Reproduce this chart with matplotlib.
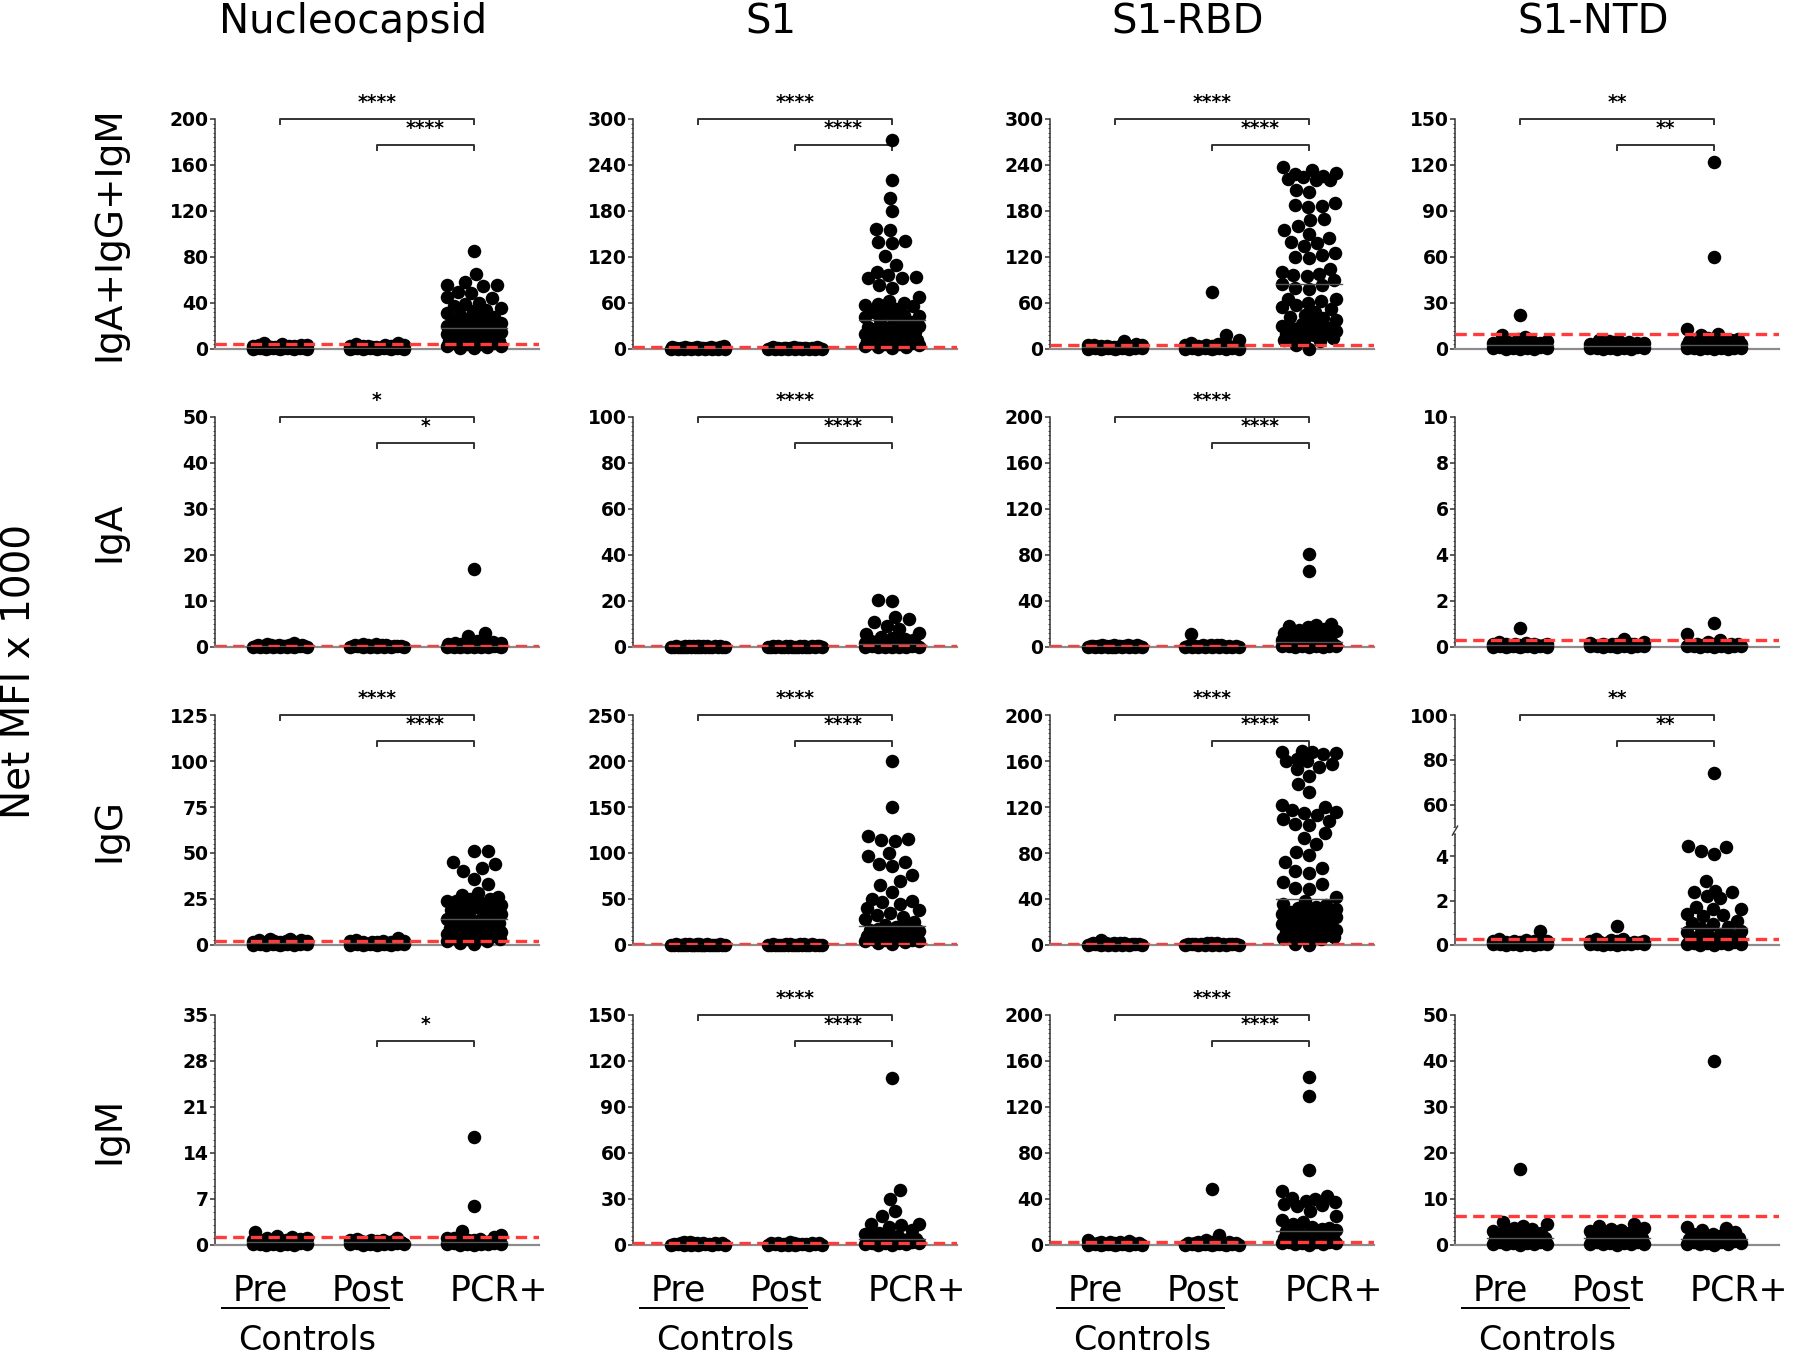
import numpy as np
import matplotlib.pyplot as plt
from matplotlib.ticker import MultipleLocator, AutoMinorLocator, FixedLocator

plt.rcParams['font.family'] = ['DejaVu Sans']

antigens = ["Nucleocapsid", "S1", "S1-RBD", "S1-NTD"]
isotypes = ["IgA+IgG+IgM", "IgA", "IgG", "IgM"]
groups = ["Pre", "Post", "PCR+"]

# ---- IgA+IgG+IgM ----
nuc_all_pre = [0.1, 0.2, 0.3, 0.4, 0.5, 0.6, 0.7, 0.8, 0.9, 1.0, 1.1, 1.2, 1.4, 1.5, 1.7, 1.8, 2.0, 2.2, 2.4,
               2.6, 2.9, 3.1, 3.4, 3.8, 4.2, 0.2, 0.5, 0.9, 1.3, 5.0]
nuc_all_post = [0.1, 0.2, 0.3, 0.4, 0.5, 0.6, 0.7, 0.8, 1.0, 1.1, 1.2, 1.3, 1.5, 1.6, 1.8, 2.0, 2.2, 2.5, 2.7,
                3.0, 3.3, 3.6, 0.3, 0.6, 0.9, 1.4, 4.2, 5.5]
nuc_all_pcr = [85, 65, 58, 56, 55, 56, 50, 49, 45, 44, 40, 39, 37, 36, 34, 33, 31, 30, 28, 27, 26, 25, 24, 23,
               22, 21, 20, 19, 18, 17, 16, 15, 15, 14, 13, 12, 11, 10, 10, 9, 8, 8, 7, 7, 6, 6, 5, 5, 5, 4, 4,
               3, 3, 2, 1, 0.5]
s1_all_pre = [0.1, 0.2, 0.3, 0.4, 0.5, 0.6, 0.7, 0.8, 0.9, 1.0, 1.1, 1.2, 1.3, 1.5, 1.6, 1.8, 2.0, 2.2, 2.5,
              2.8, 3.1, 0.2, 0.4, 0.6, 0.8, 1.0, 1.4, 3.5]
s1_all_post = [0.1, 0.2, 0.3, 0.4, 0.5, 0.6, 0.7, 0.8, 0.9, 1.0, 1.2, 1.4, 1.6, 1.8, 2.0, 2.3, 2.6, 0.3, 0.5,
               0.9, 1.1, 1.5, 0.2, 0.7]
s1_all_pcr = [272, 221, 197, 180, 157, 155, 141, 139, 138, 121, 110, 100, 96, 94, 93, 92, 83, 80, 68, 62, 60,
              59, 58, 56, 52, 50, 48, 45, 43, 42, 40, 38, 35, 32, 30, 29, 28, 26, 25, 24, 22, 20, 18, 17, 16, 15,
              14, 13, 12, 12, 11, 10, 10, 9, 8, 8, 7, 6, 5, 4, 3, 2, 1]
rbd_all_pre = [0.2, 0.4, 0.6, 0.8, 1.0, 1.2, 1.4, 1.6, 1.8, 2.0, 2.2, 2.5, 2.8, 3.0, 3.3, 3.6, 4.0, 4.4, 4.8,
               5.2, 5.8, 6.4, 0.3, 0.7, 1.1, 1.5, 2.4, 10]
rbd_all_post = [75, 18, 12, 8, 6.5, 5.8, 5.0, 4.4, 3.8, 3.2, 2.8, 2.4, 2.0, 1.6, 1.3, 1.0, 0.8, 0.6, 0.4, 0.2,
                0.1, 0.3, 0.9, 1.8, 2.6, 3.5]
rbd_all_pcr = [238, 233, 230, 228, 226, 225, 222, 221, 220, 208, 205, 190, 188, 187, 185, 170, 168, 160, 155,
               150, 145, 140, 138, 135, 125, 122, 120, 119, 105, 100, 98, 97, 95, 90, 85, 83, 80, 78, 65, 65, 62,
               60, 58, 55, 52, 48, 45, 42, 40, 38, 35, 32, 30, 28, 27, 26, 25, 24, 22, 20, 19, 18, 17, 15, 14, 12,
               10, 5, 0.5]
ntd_all_pre = [22, 9, 8, 6.5, 5.5, 5, 4.5, 4, 3.5, 3.2, 3, 2.7, 2.5, 2.2, 2, 1.8, 1.5, 1.3, 1.1, 1, 0.8, 0.6,
               0.5, 0.4, 0.3, 0.2, 0.1, 1.2, 2.4, 3.8]
ntd_all_post = [6, 5.5, 5, 4.6, 4.2, 3.9, 3.6, 3.3, 3, 2.8, 2.5, 2.3, 2, 1.8, 1.6, 1.4, 1.2, 1, 0.8, 0.6, 0.5,
                0.4, 0.3, 0.2, 0.1, 2.2, 3.1, 4.8, 1.5, 0.9]
ntd_all_pcr = [122, 60, 13, 10, 9, 7, 6.5, 6, 5.5, 5, 4.8, 4.5, 4.2, 4, 3.8, 3.5, 3.2, 3, 2.8, 2.6, 2.4, 2.2, 2,
               1.8, 1.6, 1.5, 1.3, 1.2, 1, 0.9, 0.8, 0.7, 0.6, 0.5, 0.4, 0.3, 0.2, 0.1, 2.1, 3.3]

# ---- IgA ----
nuc_iga_pre = [0.8, 0.6, 0.5, 0.45, 0.4, 0.35, 0.3, 0.28, 0.25, 0.22, 0.2, 0.18, 0.15, 0.12, 0.1, 0.08, 0.05,
               0.03, 0.02, 0.01, 0.3, 0.2, 0.1, 0.05, 0.4, 0.15]
nuc_iga_post = [0.7, 0.55, 0.45, 0.4, 0.35, 0.3, 0.26, 0.22, 0.2, 0.17, 0.14, 0.12, 0.1, 0.08, 0.05, 0.03, 0.01,
                0.3, 0.2, 0.1, 0.05, 0.4, 0.15, 0.25]
nuc_iga_pcr = [17, 3, 2.4, 1.2, 1.0, 0.9, 0.8, 0.7, 0.6, 0.55, 0.5, 0.45, 0.4, 0.35, 0.3, 0.28, 0.25, 0.22, 0.2,
               0.18, 0.15, 0.12, 0.1, 0.08, 0.05, 0.03, 0.02, 0.01, 0.3, 0.2, 0.1, 0.05, 0.4, 0.15]
s1_iga_pre = [0.6, 0.5, 0.45, 0.4, 0.35, 0.3, 0.25, 0.2, 0.18, 0.15, 0.12, 0.1, 0.08, 0.06, 0.05, 0.04, 0.03,
              0.02, 0.01, 0.3, 0.2, 0.1, 0.05, 0.4, 0.15, 0.25]
s1_iga_post = [0.55, 0.5, 0.42, 0.38, 0.33, 0.28, 0.24, 0.2, 0.17, 0.14, 0.11, 0.09, 0.07, 0.05, 0.03, 0.02,
               0.01, 0.3, 0.2, 0.1, 0.05, 0.4, 0.15]
s1_iga_pcr = [20.5, 20, 13, 12, 11, 9, 8, 6, 5.5, 4.5, 4, 3.5, 3, 2.5, 2.2, 2, 1.8, 1.5, 1.2, 1, 0.9, 0.8, 0.6,
              0.5, 0.4, 0.3, 0.2, 0.15, 0.1, 0.05, 0.02, 0.3, 0.7, 0.4, 0.2, 0.1]
rbd_iga_pre = [2, 1.8, 1.5, 1.3, 1.1, 1, 0.9, 0.8, 0.7, 0.6, 0.5, 0.4, 0.3, 0.25, 0.2, 0.15, 0.1, 0.05, 0.02,
               0.5, 1.2, 0.7, 0.3, 0.1, 1.6, 0.9]
rbd_iga_post = [11, 2, 1.7, 1.4, 1.2, 1, 0.9, 0.8, 0.6, 0.5, 0.4, 0.3, 0.2, 0.1, 0.05, 0.02, 0.6, 1.1, 0.3, 0.15,
                1.5, 0.7, 0.4]
rbd_iga_pcr = [81, 66, 20, 19, 18, 17, 16, 15, 14, 12, 12, 11, 10, 9, 8, 7, 6, 5, 5, 4, 4, 3.5, 3, 3, 2.5, 2, 2,
               1.5, 1.2, 1, 0.8, 0.6, 0.4, 0.2, 0.1, 1.8, 0.9, 0.5]
ntd_iga_pre = [0.82, 0.2, 0.18, 0.15, 0.13, 0.12, 0.1, 0.09, 0.08, 0.07, 0.06, 0.05, 0.04, 0.03, 0.02, 0.01,
               0.005, 0.11, 0.07, 0.03, 0.14, 0.06, 0.02, 0.09, 0.04, 0.01]
ntd_iga_post = [0.35, 0.2, 0.17, 0.15, 0.13, 0.11, 0.1, 0.09, 0.08, 0.07, 0.06, 0.05, 0.04, 0.03, 0.02, 0.01,
                0.12, 0.07, 0.03, 0.14, 0.06, 0.02, 0.09, 0.04]
ntd_iga_pcr = [1.05, 0.55, 0.3, 0.2, 0.15, 0.12, 0.1, 0.09, 0.08, 0.07, 0.06, 0.05, 0.04, 0.03, 0.02, 0.01,
               0.11, 0.07, 0.03, 0.14, 0.06, 0.02]

# ---- IgG ----
nuc_igg_pre = [3.2, 3, 2.7, 2.5, 2.3, 2.1, 1.9, 1.7, 1.5, 1.3, 1.1, 1, 0.9, 0.8, 0.7, 0.6, 0.5, 0.4, 0.3, 0.2,
               0.1, 0.05, 1.4, 0.9, 0.4, 2.2, 0.2, 1.6]
nuc_igg_post = [3.6, 2.8, 2.4, 2.1, 1.8, 1.6, 1.4, 1.2, 1, 0.9, 0.8, 0.7, 0.6, 0.5, 0.4, 0.3, 0.2, 0.1, 0.05,
                1.1, 0.6, 0.3, 1.5, 0.15, 0.8, 2.0]
nuc_igg_pcr = [51, 51, 45, 44, 42, 40, 36, 33, 28, 27, 26, 25, 25, 24, 24, 23, 22, 21, 20, 20, 19, 18, 17, 16,
               15, 14, 14, 13, 12, 12, 11, 10, 10, 9, 9, 8, 8, 7, 7, 6, 6, 5, 5, 5, 4, 4, 3, 3, 2, 2, 1, 0.5]
s1_igg_pre = [1.0, 0.9, 0.8, 0.7, 0.6, 0.5, 0.45, 0.4, 0.35, 0.3, 0.25, 0.2, 0.15, 0.1, 0.05, 0.02, 0.5, 0.3,
              0.1, 0.7, 0.2, 0.4, 0.6, 0.08, 0.12, 0.35]
s1_igg_post = [0.9, 0.8, 0.7, 0.6, 0.55, 0.5, 0.45, 0.4, 0.3, 0.25, 0.2, 0.15, 0.1, 0.05, 0.02, 0.5, 0.3, 0.1,
               0.65, 0.2, 0.35, 0.08]
s1_igg_pcr = [200, 150, 119, 115, 114, 113, 100, 97, 90, 88, 86, 76, 70, 65, 58, 50, 48, 47, 45, 40, 38, 35, 33,
              30, 28, 25, 22, 20, 18, 17, 16, 15, 15, 14, 13, 12, 12, 11, 10, 10, 9, 8, 8, 7, 7, 6, 6, 5, 5, 4,
              4, 3, 2, 1]
rbd_igg_pre = [4, 2, 1.8, 1.6, 1.4, 1.2, 1, 0.9, 0.8, 0.7, 0.6, 0.5, 0.4, 0.3, 0.2, 0.1, 0.05, 1.1, 0.6, 0.3,
               1.5, 0.15, 0.8, 0.45]
rbd_igg_post = [2, 1.7, 1.4, 1.2, 1, 0.9, 0.8, 0.6, 0.5, 0.4, 0.3, 0.2, 0.1, 0.05, 1.1, 0.7, 0.35, 0.15, 1.3,
                0.55]
rbd_igg_pcr = [169, 168, 168, 167, 166, 162, 160, 160, 157, 155, 153, 147, 140, 133, 122, 120, 117, 116, 115,
               113, 110, 108, 105, 104, 97, 93, 88, 81, 78, 72, 67, 64, 63, 55, 53, 50, 49, 42, 38, 36, 35, 33,
               32, 31, 30, 29, 28, 27, 27, 26, 25, 24, 24, 23, 22, 21, 20, 20, 19, 18, 16, 15, 14, 13, 12, 11,
               10, 9, 9, 8, 8, 7, 6, 5, 1, 0]
ntd_igg_pre = [0.65, 0.25, 0.22, 0.2, 0.18, 0.16, 0.14, 0.12, 0.1, 0.09, 0.08, 0.07, 0.06, 0.05, 0.04, 0.03,
               0.02, 0.01, 0.15, 0.11, 0.06, 0.03, 0.19, 0.08, 0.13, 0.02]
ntd_igg_post = [0.85, 0.28, 0.25, 0.22, 0.2, 0.17, 0.15, 0.12, 0.1, 0.09, 0.08, 0.07, 0.06, 0.05, 0.04, 0.03,
                0.02, 0.01, 0.15, 0.11, 0.06, 0.03, 0.19, 0.08]
ntd_igg_pcr = [74, 4.45, 4.4, 4.25, 4.1, 2.9, 2.45, 2.4, 2.4, 2.2, 2.1, 1.7, 1.6, 1.6, 1.4, 1.35, 1.3, 1.1, 1.0,
               0.95, 0.8, 0.75, 0.65, 0.6, 0.5, 0.45, 0.4, 0.35, 0.3, 0.25, 0.2, 0.15, 0.12, 0.1, 0.08, 0.05,
               0.03, 0.02, 0.01, 0.3, 0.2, 0.1, 0.05]

# ---- IgM ----
nuc_igm_pre = [2.0, 1.4, 1.1, 1.0, 0.9, 0.8, 0.7, 0.65, 0.6, 0.5, 0.45, 0.4, 0.35, 0.3, 0.25, 0.2, 0.15, 0.1,
               0.05, 0.02, 0.55, 0.3, 0.12, 0.8, 0.4, 0.2, 0.05, 1.2]
nuc_igm_post = [1.0, 0.9, 0.8, 0.7, 0.6, 0.55, 0.5, 0.45, 0.4, 0.35, 0.3, 0.25, 0.2, 0.15, 0.1, 0.05, 0.02, 0.6,
                0.3, 0.12, 0.8, 0.4, 0.2]
nuc_igm_pcr = [16.5, 6, 2.2, 1.5, 1.2, 1.1, 1.0, 0.9, 0.8, 0.7, 0.6, 0.5, 0.45, 0.4, 0.35, 0.3, 0.25, 0.2, 0.15,
               0.1, 0.05, 0.02, 0.6, 0.3, 0.12, 0.4, 0.2]
s1_igm_pre = [2.2, 1.8, 1.5, 1.3, 1.1, 1, 0.9, 0.8, 0.7, 0.6, 0.5, 0.4, 0.3, 0.2, 0.1, 0.05, 1.2, 0.6, 0.3, 1.6,
              0.2, 0.8]
s1_igm_post = [1.8, 1.5, 1.2, 1, 0.9, 0.8, 0.7, 0.6, 0.5, 0.4, 0.3, 0.2, 0.1, 0.05, 1.1, 0.6, 0.3, 1.4, 0.15]
s1_igm_pcr = [109, 36, 30, 22, 19, 14, 14, 13, 12, 10, 8, 7, 6, 6, 5, 5, 4, 4, 3.5, 3, 3, 2.5, 2, 2, 1.5, 1, 1,
              0.5, 0.3, 0.1, 2.2, 1.2, 0.6]
rbd_igm_pre = [4, 3.2, 2.8, 2.4, 2, 1.8, 1.6, 1.4, 1.2, 1, 0.8, 0.6, 0.5, 0.4, 0.3, 0.2, 0.1, 1.1, 0.7, 0.3,
               1.5, 2.2, 0.9]
rbd_igm_post = [49, 9, 4, 3, 2.5, 2.2, 1.9, 1.6, 1.3, 1.1, 0.9, 0.7, 0.5, 0.4, 0.3, 0.2, 0.1, 1.2, 0.6, 0.25,
                1.8, 0.8]
rbd_igm_pcr = [146, 130, 65, 47, 43, 41, 40, 38, 37, 36, 35, 34, 30, 25, 22, 20, 18, 16, 15, 14, 13, 12, 11, 10,
               10, 9, 8, 7, 6, 5, 5, 4, 3, 3, 2, 2, 1.5, 1, 0.5, 0.2, 2.5, 6.5, 4.5]
ntd_igm_pre = [16.5, 5, 4.5, 4.2, 3.8, 3.4, 3, 2.7, 2.4, 2.1, 1.8, 1.6, 1.4, 1.2, 1, 0.8, 0.6, 0.5, 0.4, 0.3,
               0.2, 0.1, 1.7, 1.1, 0.7, 0.3, 2.5, 1.5, 0.9, 0.15]
ntd_igm_post = [4.6, 4.2, 3.8, 3.5, 3.2, 3, 2.7, 2.4, 2.2, 2, 1.8, 1.6, 1.4, 1.2, 1, 0.8, 0.6, 0.5, 0.4, 0.3,
                0.2, 0.1, 1.7, 1.1, 0.7, 0.3, 2.5, 1.5, 0.9, 0.15]
ntd_igm_pcr = [40, 4, 3.6, 3.2, 2.8, 2.5, 2.3, 2, 1.8, 1.6, 1.4, 1.2, 1, 0.8, 0.6, 0.5, 0.4, 0.3, 0.2, 0.1, 1.7,
               1.1, 0.7, 0.3, 1.5, 0.9]

y_max = [[200, 300, 300, 150], [50, 100, 200, 10], [125, 250, 200, 100], [35, 150, 200, 50]]
y_step = [[40, 60, 60, 30], [10, 20, 40, 2], [25, 50, 40, 20], [7, 30, 40, 10]]
cutoffs = [[4.5, 3.2, 5.5, 9.5], [0.3, 0.5, 1.0, 0.29], [2.2, 0.6, 1.0, 0.29], [1.2, 1.0, 2.4, 6.3]]
stars = [[("****", "****"), ("****", "****"), ("****", "****"), ("**", "**")],
         [("*", "*"), ("****", "****"), ("****", "****"), None],
         [("****", "****"), ("****", "****"), ("****", "****"), ("**", "**")],
         [(None, "*"), ("****", "****"), ("****", "****"), None]]

data = [
    [(nuc_all_pre, nuc_all_post, nuc_all_pcr), (s1_all_pre, s1_all_post, s1_all_pcr),
     (rbd_all_pre, rbd_all_post, rbd_all_pcr), (ntd_all_pre, ntd_all_post, ntd_all_pcr)],
    [(nuc_iga_pre, nuc_iga_post, nuc_iga_pcr), (s1_iga_pre, s1_iga_post, s1_iga_pcr),
     (rbd_iga_pre, rbd_iga_post, rbd_iga_pcr), (ntd_iga_pre, ntd_iga_post, ntd_iga_pcr)],
    [(nuc_igg_pre, nuc_igg_post, nuc_igg_pcr), (s1_igg_pre, s1_igg_post, s1_igg_pcr),
     (rbd_igg_pre, rbd_igg_post, rbd_igg_pcr), (ntd_igg_pre, ntd_igg_post, ntd_igg_pcr)],
    [(nuc_igm_pre, nuc_igm_post, nuc_igm_pcr), (s1_igm_pre, s1_igm_post, s1_igm_pcr),
     (rbd_igm_pre, rbd_igm_post, rbd_igm_pcr), (ntd_igm_pre, ntd_igm_post, ntd_igm_pcr)],
]

# layout (pixels)
W, H = 1800, 1357
lefts = [215, 633, 1050, 1455]
tops = [119, 417, 715, 1015]
aw, ah = 324, 230
DOT = 13.5  # dot diameter in px
HALF = 27   # max swarm half width in px

# broken axis for S1-NTD IgG: 0-5 lower part, 50-100 upper part
brk_y = [-5, 0, 5, 50, 100, 300]
brk_f = [-0.4826, 0, 0.4826, 0.513, 1.0, 3.0]


def fwd(y):
    return np.interp(y, brk_y, brk_f)


def inv(v):
    return np.interp(v, brk_f, brk_y)


def swarm(ax, xc, vals):
    vals = np.asarray(vals, float)
    pts = ax.transData.transform(np.column_stack([np.full(len(vals), xc), vals]))
    ypx = pts[:, 1]
    x0 = pts[0, 0]
    cand = np.arange(-HALF, HALF + 0.1, 1.0)
    cand = cand[np.argsort(np.abs(cand), kind="stable")]
    placed = np.empty((0, 2))
    offs = np.zeros(len(vals))
    for i in np.argsort(vals, kind="stable"):
        best, bestd = 0.0, -1.0
        for c in cand:
            if len(placed):
                dist = np.hypot(placed[:, 0] - c, placed[:, 1] - ypx[i]).min()
            else:
                dist = np.inf
            if dist >= DOT * 0.97:
                best = c
                break
            if dist > bestd:
                best, bestd = c, dist
        placed = np.vstack([placed, [best, ypx[i]]])
        offs[i] = best
    xs = ax.transData.inverted().transform(np.column_stack([x0 + offs, ypx]))[:, 0]
    return xs


fig = plt.figure(figsize=(W / 100, H / 100), dpi=100)

for r in range(4):
    for c in range(4):
        ax = fig.add_axes([lefts[c] / W, 1 - (tops[r] + ah) / H, aw / W, ah / H])
        broken = (r == 2 and c == 3)
        if broken:
            ax.set_yscale('function', functions=(fwd, inv))
        ax.set_xlim(0.33, 3.67)
        ax.set_ylim(0, y_max[r][c])
        if broken:
            ax.yaxis.set_major_locator(FixedLocator([0, 2, 4, 60, 80, 100]))
            ax.yaxis.set_minor_locator(FixedLocator(list(np.arange(0, 5.01, 0.5)) + list(np.arange(50, 100.1, 4))))
        else:
            ax.yaxis.set_major_locator(MultipleLocator(y_step[r][c]))
            ax.yaxis.set_minor_locator(AutoMinorLocator(7 if y_step[r][c] == 7 else 10))

        for spine in ['top', 'right']:
            ax.spines[spine].set_visible(False)
        ax.spines['bottom'].set_color('#8c8c8c')
        ax.spines['bottom'].set_linewidth(1.6)
        ax.spines['left'].set_color('#333333')
        ax.spines['left'].set_linewidth(1.1)
        ax.set_xticks([])
        ax.tick_params(axis='y', which='major', length=3.6, width=1.1, color='#333333', pad=1,
                       labelsize=13.5)
        ax.tick_params(axis='y', which='minor', length=1.8, width=0.7, color='#555555')
        for lab in ax.get_yticklabels():
            lab.set_fontweight('bold')
        ax.patch.set_alpha(0)

        if broken:
            ax.spines['left'].set_visible(False)
            ax.plot([0, 0], [0, 0.4826], transform=ax.transAxes, color='#333333', lw=1.1, clip_on=False)
            ax.plot([0, 0], [0.513, 1.0], transform=ax.transAxes, color='#333333', lw=1.1, clip_on=False)
            ax.plot([-0.008, 0.008], [0.478, 0.517], transform=ax.transAxes, color='#333333', lw=1.0,
                    clip_on=False)

        for g, vals in enumerate(data[r][c]):
            xc = g + 1
            xs = swarm(ax, xc, vals)
            ax.scatter(xs, vals, s=DOT ** 2 * 0.5184, color='black', linewidths=0, zorder=3, clip_on=False)
            med = np.median(vals)
            ax.plot([xc - 0.34, xc + 0.34], [med, med], color='#555555', lw=1.0, zorder=4)

        ax.axhline(cutoffs[r][c], color='#ff3b3b', lw=2.4, ls=(0, (3.4, 1.9)), zorder=5)

        st = stars[r][c]
        if st is not None:
            tr = ax.get_xaxis_transform()
            for (x1, yb, lab) in [(1, 1.0, st[0]), (2, 0.885, st[1])]:
                if lab is None:
                    continue
                ax.plot([x1, x1, 3, 3], [yb - 0.02, yb, yb, yb - 0.02], transform=tr, color='#333333',
                        lw=1.4, clip_on=False)
                ax.text((x1 + 3) / 2, yb + 0.072, lab, transform=tr, ha='center', va='center',
                        fontsize=13.5, fontweight='bold')

        if r == 3:
            tr = ax.get_xaxis_transform()
            for xl, lab in zip([0.8, 1.91, 3.26], groups):
                ax.text(xl, -0.197, lab, transform=tr, ha='center', va='center', fontsize=25)
            ax.plot([0.40, 2.12], [-0.275, -0.275], transform=tr, color='black', lw=1.4, clip_on=False)
            ax.text(1.28, -0.415, "Controls", transform=tr, ha='center', va='center', fontsize=24)

for c, name in enumerate(antigens):
    fig.text((lefts[c] + 138) / W, 1 - 22 / H, name, ha='center', va='center', fontsize=29)
for r, name in enumerate(isotypes):
    fig.text(109 / W, 1 - (tops[r] + ah / 2) / H, name, rotation=90, ha='center', va='center', fontsize=27)
fig.text(20 / W, 1 - 671 / H, "Net MFI x 1000", rotation=90, ha='center', va='center', fontsize=28)

fig.savefig('out.png', dpi=100)
